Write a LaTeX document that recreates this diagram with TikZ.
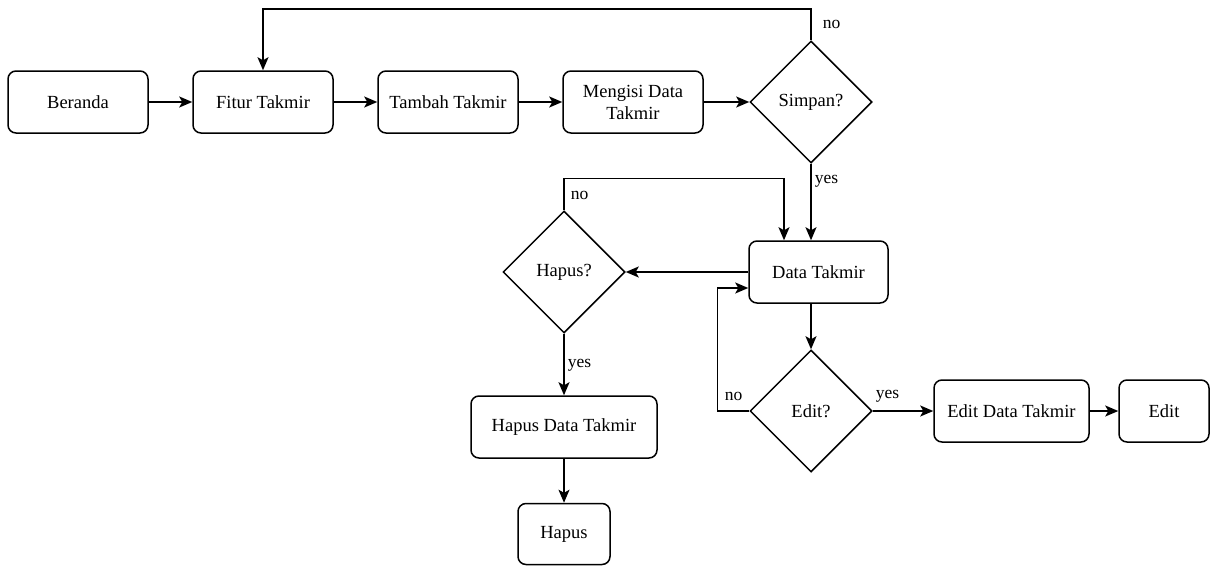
\documentclass[tikz,border=0pt]{standalone}
\usepackage{fontspec}
\setmainfont{Liberation Serif}
\usetikzlibrary{shapes.geometric,arrows.meta,calc}

\begin{document}
\begin{tikzpicture}[x=1pt,y=-1pt,
  font=\fontsize{18.5}{22}\selectfont,
  every path/.style={line width=1.5pt},
  box/.style={draw, rounded corners=8pt, minimum height=62pt, inner sep=0pt, align=center},
  decision/.style={draw, diamond, minimum width=122pt, minimum height=122pt, inner sep=0pt},
  flow/.style={-{Stealth[length=13pt,width=11pt,inset=3pt]}},
  lbl/.style={inner sep=1pt, font=\fontsize{17.5}{20}\selectfont}]

\useasboundingbox (0,0) rectangle (1210,565);

% main row
\node[box, minimum width=140pt] (beranda) at (78,102)  {Beranda};
\node[box, minimum width=140pt] (fitur)   at (263,102) {Fitur Takmir};
\node[box, minimum width=140pt] (tambah)  at (448,102) {Tambah Takmir};
\node[box, minimum width=140pt] (isi)     at (633,102) {Mengisi Data\\Takmir};
\node[decision] (simpan) at (811,102) {Simpan?};

% data list and its decisions
\node[box, minimum width=139pt] (data)   at (818.5,272) {Data Takmir};
\node[decision] (hapusq) at (564,272) {Hapus?};
\node[decision] (editq)  at (811,411) {Edit?};

% outcomes
\node[box, minimum width=186pt] (hapusdata) at (564,427)  {Hapus Data Takmir};
\node[box, minimum width=92pt, minimum height=61pt] (hapus) at (564,534) {Hapus};
\node[box, minimum width=155pt] (editdata)  at (1011.5,411) {Edit Data Takmir};
\node[box, minimum width=90pt]  (edit)      at (1164,411) {Edit};

% straight connectors
\draw[flow] (beranda) -- (fitur);
\draw[flow] (fitur) -- (tambah);
\draw[flow] (tambah) -- (isi);
\draw[flow] (isi) -- (simpan);
\draw[flow] (simpan.south) -- (simpan.south |- data.north);
\draw[flow] (data.west) -- (hapusq.east);
\draw[flow] (hapusq.south) -- (hapusdata.north);
\draw[flow] (hapusdata) -- (hapus);
\draw[flow] (data.south -| editq.north) -- (editq.north);
\draw[flow] (editq.east) -- (editdata.west);
\draw[flow] (editdata) -- (edit);

% loops back
\coordinate (toptrack) at ($(simpan.north)+(0,-31.5)$);
\draw[flow] (simpan.north) -- (toptrack) -| (fitur.north);

\coordinate (hapustrack) at ($(hapusq.north)+(0,-32)$);
\coordinate (hapusin) at ($(data.north)+(-34.5,0)$);
\draw[flow] (hapusq.north) -- (hapustrack) -| (hapusin);

\coordinate (edittrack) at ($(editq.west)+(-32,0)$);
\coordinate (editin) at ($(data.west)+(0,16)$);
\draw[flow] (editq.west) -- (edittrack) |- (editin);

% branch labels
\node[lbl, anchor=west] at (821,24)  {no};
\node[lbl, anchor=west] at (813,181) {yes};
\node[lbl, anchor=west] at (569,195) {no};
\node[lbl, anchor=west] at (566,365) {yes};
\node[lbl, anchor=west] at (723,396) {no};
\node[lbl, anchor=west] at (874,396) {yes};
\end{tikzpicture}
\end{document}
